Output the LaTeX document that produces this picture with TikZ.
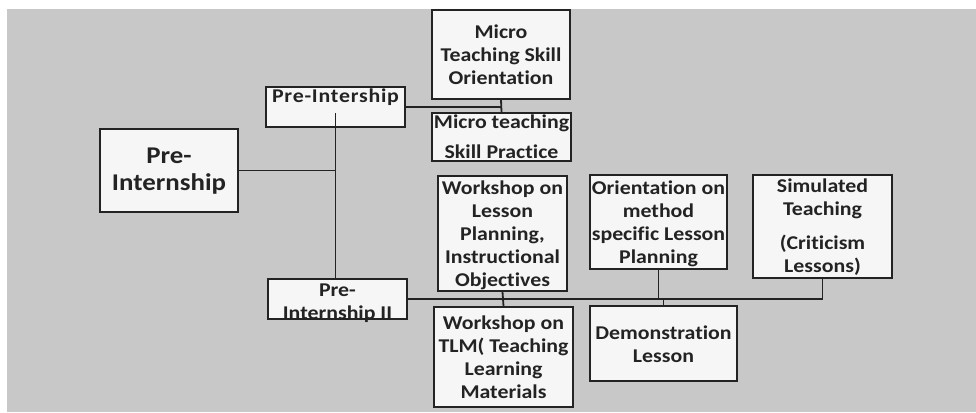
\documentclass[tikz,border=0pt]{standalone}
\usepackage{fontspec}
\setmainfont{Carlito}[FakeStretch=1.12, Ligatures={NoCommon}]
\definecolor{bgcol}{RGB}{200,200,200}
\definecolor{boxfill}{RGB}{246,246,246}
\definecolor{inkcol}{RGB}{35,35,35}
\tikzset{
  box/.style={draw=inkcol, line width=1.8pt, fill=boxfill, rectangle, inner sep=0pt},
  lbl/.style={font=\bfseries\fontsize{19.5}{23}\selectfont, align=center, inner sep=0pt, text=inkcol},
  biglbl/.style={font=\bfseries\fontsize{24}{27}\selectfont, align=center, inner sep=0pt, text=inkcol},
  conn/.style={draw=inkcol, line width=1.8pt}
}
\begin{document}
\begin{tikzpicture}[x=1pt,y=-1pt]
\useasboundingbox (0,0) rectangle (976,412);
\fill[white] (0,0) rectangle (976,412);
\fill[bgcol] (7,9) rectangle (976,412);

% boxes
\node[box, minimum width=138pt, minimum height=83pt,
  label={[biglbl, yshift=-1pt]center:Pre-\\Internship}] (big) at (169,170.5) {};
\node[box, minimum width=139pt, minimum height=40pt,
  label={[lbl, yshift=10pt]center:\addfontfeature{LetterSpace=4}Pre-Intership}] (pre1) at (335.5,107) {};
\node[box, minimum width=139pt, minimum height=40pt,
  label={[lbl, yshift=-4pt]center:Pre-\\Internship II}] (pre2) at (337.5,299) {};
\node[box, minimum width=138pt, minimum height=89pt,
  label={[lbl]center:Micro\\Teaching Skill\\Orientation}] (orient) at (501,54.5) {};
\node[box, minimum width=139pt, minimum height=48pt,
  label={[lbl]center:Micro teaching\\[7pt]Skill Practice}] (practice) at (501.5,137) {};
\node[box, minimum width=129pt, minimum height=115pt,
  label={[lbl, yshift=-2pt]center:Workshop on\\Lesson\\Planning,\\Instructional\\Objectives}] (wlp) at (502.5,233.5) {};
\node[box, minimum width=139pt, minimum height=100pt,
  label={[lbl]center:Workshop on\\TLM( Teaching\\Learning\\Materials}] (tlm) at (503.5,357) {};
\node[box, minimum width=137pt, minimum height=94pt,
  label={[lbl, yshift=-2pt]center:Orientation on\\method\\specific Lesson\\Planning}] (om) at (658.5,222) {};
\node[box, minimum width=147pt, minimum height=75pt,
  label={[lbl, yshift=-1pt]center:Demonstration\\Lesson}] (demo) at (663.5,343.5) {};
\node[box, minimum width=139pt, minimum height=103pt,
  label={[lbl, yshift=-1pt]center:Simulated\\Teaching\\[11pt](Criticism\\Lessons)}] (sim) at (822.5,226.5) {};

% connectors
\draw[conn] (big.east) -- (big.east -| pre1.south);
\draw[conn] ([yshift=15pt]pre1.south) -- (pre1.south |- pre2.north);
\draw[conn] (pre1.east) -- (pre1.east -| orient.south);
\draw[conn] (orient.south) -- (practice.north);
\draw[conn] (pre2.east) -- (pre2.east -| sim.south);
\draw[conn] (wlp.south) -- (tlm.north);
\draw[conn] (om.south) -- (om.south |- pre2.east);
\draw[conn] (demo.north) -- (demo.north |- pre2.east);
\draw[conn] (sim.south) -- (sim.south |- pre2.east);
\end{tikzpicture}
\end{document}
